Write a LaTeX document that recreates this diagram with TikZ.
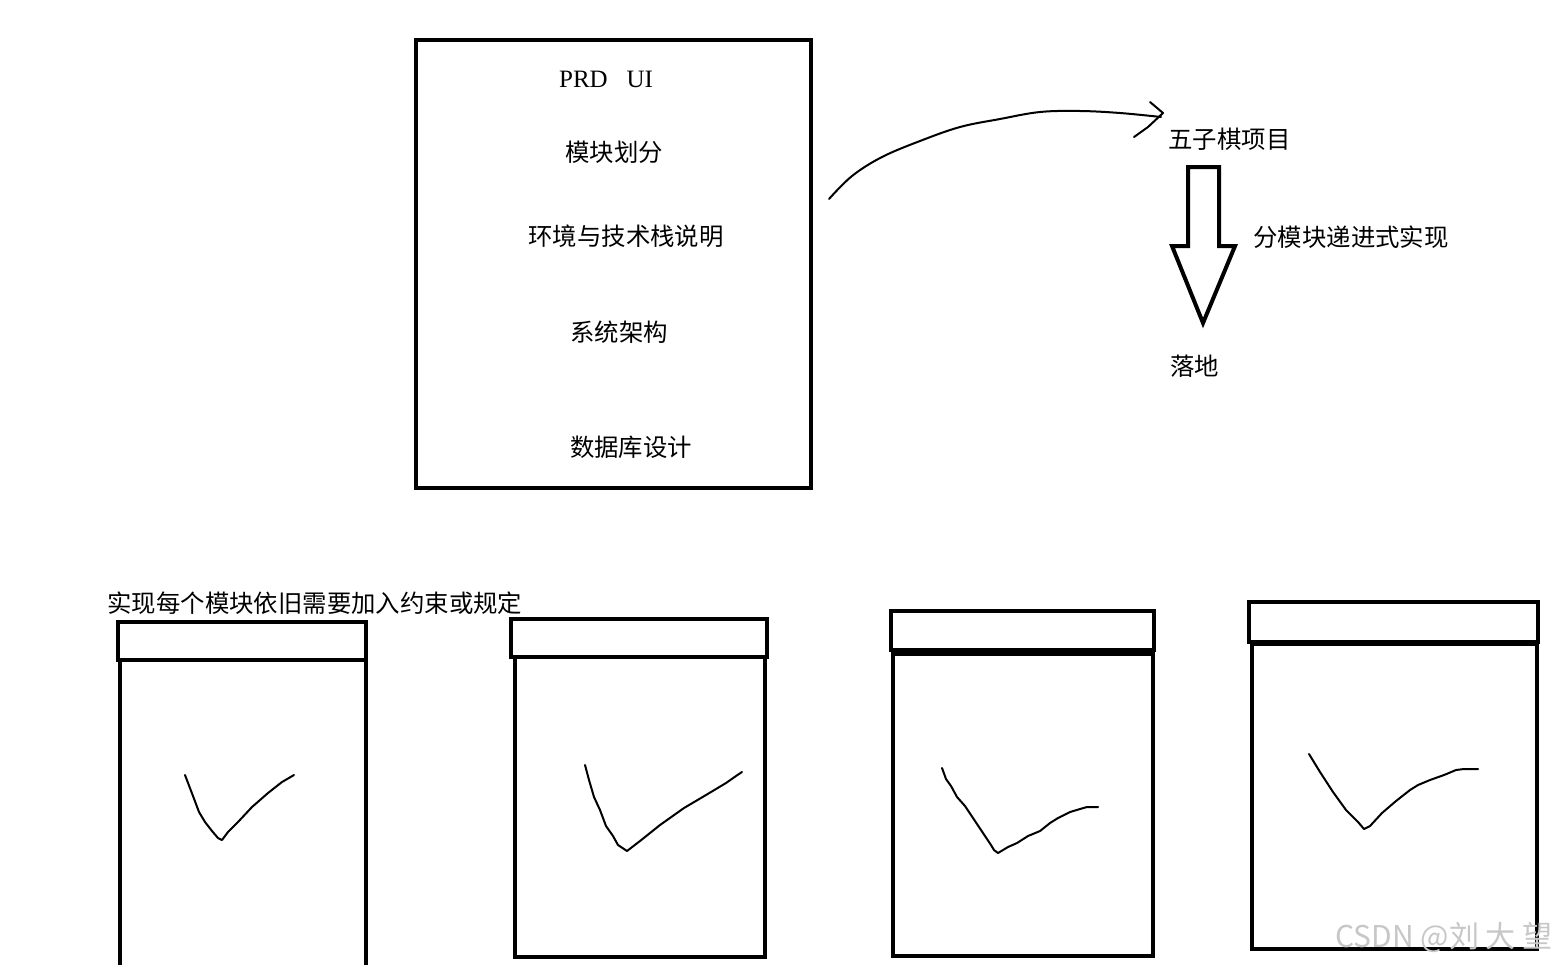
\documentclass[tikz,border=0pt]{standalone}
\usepackage{fontspec}
\newfontfamily\cjk{Noto Sans CJK SC}
\newfontfamily\latserif{Liberation Serif}
\begin{document}
\begin{tikzpicture}[x=0.5pt,y=-0.5pt,
  boxline/.style={draw=black,line width=1.7pt},
  hand/.style={draw=black,line width=1pt,line cap=round,line join=round},
  lbl/.style={font=\cjk\fontsize{12.2}{14}\selectfont,inner sep=0pt,text=black}]
\useasboundingbox (0,0) rectangle (1561,964);
% top box
\draw[boxline] (416,40) rectangle (811,488);
\node[lbl,font=\latserif\fontsize{12.5}{14}\selectfont] (prd) at (606,79) {PRD\ \ \ UI};
\node[lbl] (mk) at (614,152) {模块划分};
\node[lbl] (hj) at (626,236) {环境与技术栈说明};
\node[lbl] (xt) at (619,332) {系统架构};
\node[lbl] (sj) at (631,447) {数据库设计};
% curve arrow
\coordinate (cs) at (829,199);
\coordinate (ce) at (1161,117);
\draw[hand] plot[smooth,tension=0.6] coordinates {(cs) (852,176) (882,157) (920,141) (960,127) (1000,119) (1040,112) (1080,111) (1120,113) (ce)};
\draw[hand] (1150,102) -- (1163,113) -- (1148,127) -- (1134,137);
% right side
\node[lbl,anchor=west] (wzq) at (1168,139) {五子棋项目};
\draw[draw=black,line width=2pt,line join=miter] (1188,167) -- (1219,167) -- (1219,246) -- (1235,246) -- (1203,323) -- (1172,246) -- (1188,246) -- cycle;
\node[lbl,anchor=west] (fmk) at (1253,237) {分模块递进式实现};
\node[lbl,anchor=west] (ld) at (1170,366) {落地};
% bottom caption
\node[lbl,anchor=west] (cap) at (107,603) {实现每个模块依旧需要加入约束或规定};
% box 1
\draw[boxline] (118,622) rectangle (366,660);
\draw[boxline] (120,660) -- (120,966) (366,660) -- (366,966);
\draw[hand] (185,775) -- (193,796) -- (199,812) -- (205,822) -- (212,831) -- (218,838) -- (222,840) -- (228,832) -- (238,822) -- (252,807) -- (268,793) -- (282,782) -- (294,775);
% box 2
\draw[boxline] (511,619) rectangle (767,657);
\draw[boxline] (515,657) rectangle (765,957);
\draw[hand] (585,765) -- (589,780) -- (594,797) -- (600,810) -- (606,826) -- (613,836) -- (618,845) -- (627,851) -- (640,841) -- (660,825) -- (684,808) -- (706,795) -- (726,783) -- (736,776) -- (742,772);
% box 3
\draw[boxline] (891,611) rectangle (1154,650);
\draw[draw=black,line width=2.6pt] (891,653) -- (1154,653);
\draw[boxline] (893,654) rectangle (1153,956);
\draw[hand] (942,768) -- (946,779) -- (951,786) -- (957,797) -- (965,806) -- (975,821) -- (983,833) -- (991,845) -- (994,850) -- (998,853) -- (1008,847) -- (1017,843) -- (1028,836) -- (1040,831) -- (1050,823) -- (1058,818) -- (1070,812) -- (1080,809) -- (1087,807) -- (1098,807);
% box 4
\draw[boxline] (1249,602) rectangle (1538,642);
\draw[boxline] (1252,644) rectangle (1537,949);
\draw[hand] (1309,754) -- (1320,772) -- (1333,792) -- (1346,810) -- (1358,822) -- (1364,829) -- (1370,826) -- (1382,813) -- (1396,801) -- (1410,790) -- (1418,785) -- (1430,780) -- (1444,775) -- (1456,770) -- (1464,769) -- (1478,769);
% watermark
\node[font=\cjk\fontsize{15}{17}\selectfont,text=black!22,anchor=west,inner sep=0pt] (wm) at (1335,937) {CSDN @刘 大 望};
\end{tikzpicture}
\end{document}
